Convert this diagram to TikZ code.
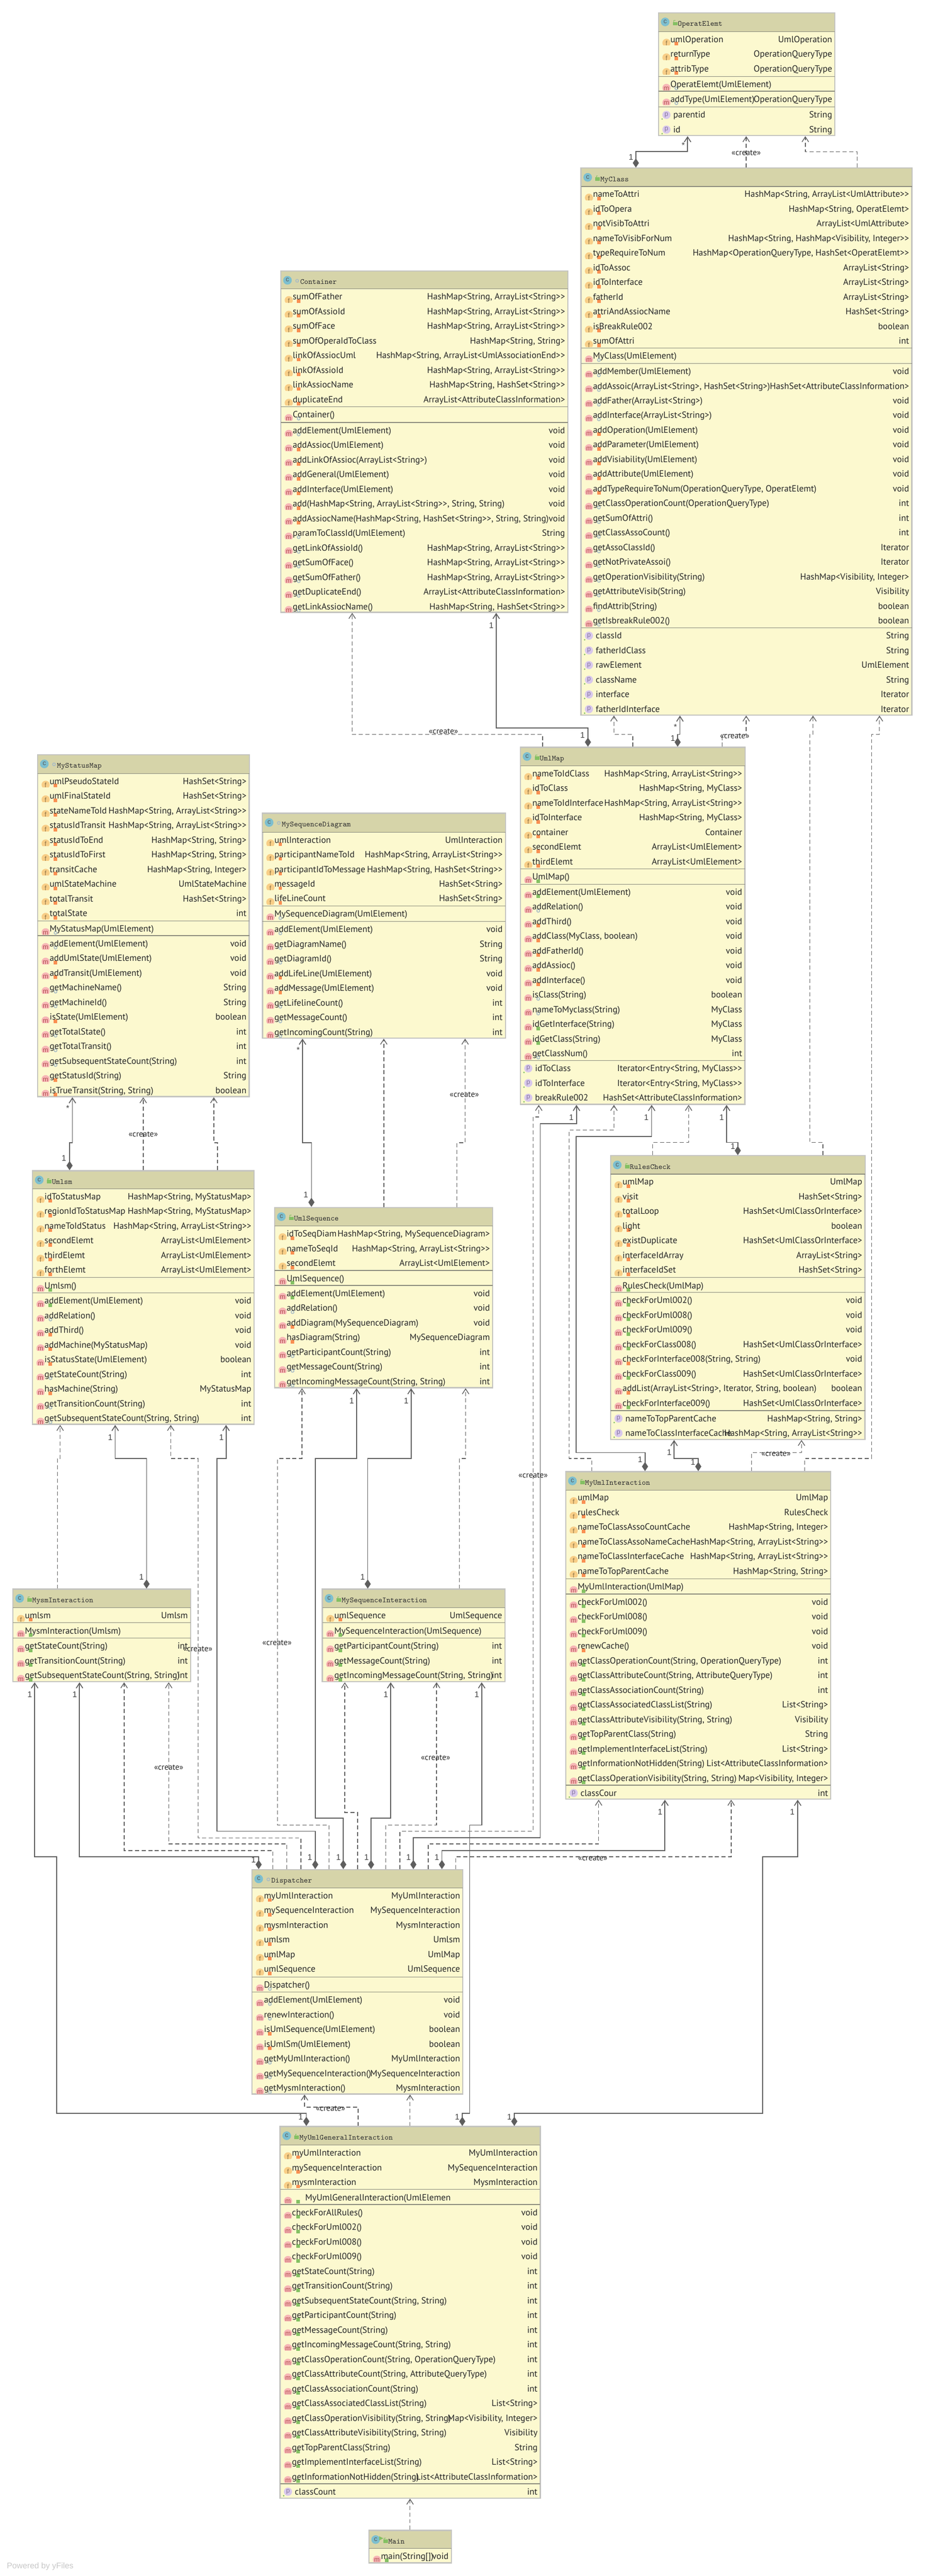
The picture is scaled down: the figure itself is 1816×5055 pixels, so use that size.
\documentclass[tikz,border=0pt]{standalone}
\usepackage{fontspec}
\usepackage{xcolor}
\usepackage{tikz}
\usetikzlibrary{arrows.meta,fit}
\newfontfamily\rowfont{PT Sans}
\newfontfamily\linefont{Liberation Sans}
\definecolor{rowbg}{HTML}{FCF9CF}
\definecolor{headbg}{HTML}{D6D4A9}
\definecolor{edgegray}{HTML}{C4C4C0}
\definecolor{sepgray}{HTML}{8A8A7C}
\definecolor{linegray}{HTML}{5E5E5E}
\definecolor{ficon}{HTML}{F8CE87}
\definecolor{micon}{HTML}{F7B6B6}
\definecolor{picon}{HTML}{D8C8EC}
\definecolor{cicon}{HTML}{7DBFCF}
\definecolor{mltr}{HTML}{B25050}
\definecolor{fltr}{HTML}{8F7445}
\definecolor{pltr}{HTML}{85759F}
\definecolor{privmark}{HTML}{F98F52}
\definecolor{pubmark}{HTML}{84C063}
\definecolor{pkgmark}{HTML}{A9BCC5}
\tikzstyle{classbox} = [draw=edgegray, line width=1.2pt, fill=rowbg, rectangle, inner sep=0pt]
\tikzstyle{headtext} = [anchor=base west, inner sep=0pt, text=black!80, font=\fontsize{7.5}{9}\selectfont\ttfamily]
\tikzstyle{nametext} = [anchor=base west, inner sep=0pt, text=black!85, font=\fontsize{8.8}{11}\selectfont\rowfont]
\tikzstyle{typetext} = [anchor=base east, inner sep=0pt, text=black!85, font=\fontsize{8.8}{11}\selectfont\rowfont]
\tikzstyle{iconltr} = [inner sep=0pt, font=\fontsize{6.5}{7}\selectfont\linefont]
\tikzstyle{sepline} = [draw=sepgray, line width=0.6pt]
\tikzstyle{mult} = [inner sep=0pt, text=black!75, font=\fontsize{8}{9}\selectfont\linefont]
\tikzstyle{stereo} = [inner sep=0pt, text=black!85, font=\fontsize{8}{10}\selectfont\rowfont]
\tikzstyle{compo} = [{Diamond[length=9pt,width=6pt]}-{Straight Barb[length=5pt,width=6.5pt]}, draw=linegray, line width=0.85pt]
\tikzstyle{dep} = [-{Straight Barb[length=5pt,width=6.5pt]}, draw=linegray, line width=0.7pt, dash pattern=on 4pt off 2.5pt]
\newcounter{rowno}
% visibility marks on a row
\newcommand{\viso}{\fill[privmark] ({\xa+31.5},{\ry+5}) rectangle ({\xa+38.5},{\ry+12});}
\newcommand{\visg}{\fill[pubmark] ({\xa+31.5},{\ry+5}) rectangle ({\xa+38.5},{\ry+12});}
\newcommand{\visc}{\draw[pkgmark, line width=0.8pt] ({\xa+35},{\ry+8}) circle (2.8);}
% one class: id, name, head mark, x1, y1, x2, y2, bottom of head
\newcommand{\umlclass}[8]{
	\def\cid{#1}\def\xa{#4}\def\xb{#6}
	\pgfmathsetmacro\nexty{#8+15}
	\node[classbox, fit={(#4,#5) (#6,#7)}] (#1) {};
	\fill[headbg] ({#4+1},{#5+1}) rectangle ({#6-1},#8);
	\draw[sepline] (#4,#8) -- (#6,#8);
	\fill[cicon] ({#4+13},{#5+18}) circle (8.5);
	\node[iconltr, text=black!65] (#1 c) at ({#4+13},{#5+17.5}) {c};
	\ifx g#3
		\fill[pubmark] ({#4+28},{#5+18}) rectangle ({#4+37},{#5+25});
		\draw[pubmark, line width=0.6pt] ({#4+30},{#5+18}) -- ({#4+30},{#5+15}) -- ({#4+33},{#5+15});
	\else
		\draw[pkgmark, line width=0.8pt] ({#4+32},{#5+19}) circle (2.8);
	\fi
	\node[headtext] (#1 name) at ({#4+37.5},{#5+26}) {#2};
}
% a separator between compartments
\newcommand{\umlsep}[1]{
	\draw[sepline] (\xa,#1) -- (\xb,#1);
	\pgfmathsetmacro\nexty{#1+15.5}
}
\newcommand{\textrow}[2]{
	\stepcounter{rowno}
	\node[nametext] (\cid n\therowno) at ({\xa+23},{\ry+6}) {#1};
	\node[typetext] (\cid t\therowno) at ({\xb-5},{\ry+6}) {#2};
	\pgfmathsetmacro\nexty{\ry+28.8}
}
\newcommand{\frow}[3]{
	\pgfmathsetmacro\ry{\nexty}
	\fill[ficon] ({\xa+15.5},{\ry+7}) ++(140:8) arc[start angle=140,end angle=400,radius=8] -- cycle;
	\node[iconltr, text=fltr] (\cid f\arabic{rowno}) at ({\xa+15.5},{\ry+8}) {f};
	\csname vis#1\endcsname
	\textrow{#2}{#3}
}
\newcommand{\mrow}[3]{
	\pgfmathsetmacro\ry{\nexty}
	\fill[micon] ({\xa+15.5},{\ry+7}) ++(140:8) arc[start angle=140,end angle=400,radius=8] -- cycle;
	\node[iconltr, text=mltr] (\cid m\arabic{rowno}) at ({\xa+15.5},{\ry+8}) {m};
	\csname vis#1\endcsname
	\textrow{#2}{#3}
}
\newcommand{\prow}[2]{
	\pgfmathsetmacro\ry{\nexty}
	\fill[picon] ({\xa+15.5},\ry) circle (8);
	\fill[pubmark] ({\xa+7},{\ry+8}) circle (1.6);
	\stepcounter{rowno}
	\node[iconltr, text=pltr] (\cid p\therowno) at ({\xa+15.5},\ry) {p};
	\node[nametext] (\cid n\therowno) at ({\xa+28.5},{\ry+6}) {#1};
	\node[typetext] (\cid t\therowno) at ({\xb-5},{\ry+6}) {#2};
	\pgfmathsetmacro\nexty{\ry+28.8}
}
\begin{document}
\begin{tikzpicture}[x=0.5pt,y=-0.5pt]
	\useasboundingbox (0,0) rectangle (1816,5055);

	\umlclass{OperatElemt}{OperatElemt}{g}{1292}{25}{1638}{266}{62}
	\frow{o}{umlOperation}{UmlOperation}
	\frow{o}{returnType}{OperationQueryType}
	\frow{o}{attribType}{OperationQueryType}
	\umlsep{150}
	\mrow{c}{OperatElemt(UmlElement)}{}
	\umlsep{179}
	\mrow{c}{addType(UmlElement)}{OperationQueryType}
	\umlsep{210}
	\prow{parentid}{String}
	\prow{id}{String}

	\umlclass{MyClass}{MyClass}{g}{1140}{330}{1789}{1403}{366}
	\frow{o}{nameToAttri}{HashMap<String, ArrayList<UmlAttribute>>}
	\frow{o}{idToOpera}{HashMap<String, OperatElemt>}
	\frow{o}{notVisibToAttri}{ArrayList<UmlAttribute>}
	\frow{o}{nameToVisibForNum}{HashMap<String, HashMap<Visibility, Integer>>}
	\frow{o}{typeRequireToNum}{HashMap<OperationQueryType, HashSet<OperatElemt>>}
	\frow{o}{idToAssoc}{ArrayList<String>}
	\frow{o}{idToInterface}{ArrayList<String>}
	\frow{o}{fatherId}{ArrayList<String>}
	\frow{o}{attriAndAssiocName}{HashSet<String>}
	\frow{o}{isBreakRule002}{boolean}
	\frow{o}{sumOfAttri}{int}
	\umlsep{683}
	\mrow{c}{MyClass(UmlElement)}{}
	\umlsep{713}
	\mrow{c}{addMember(UmlElement)}{void}
	\mrow{c}{addAssoic(ArrayList<String>, HashSet<String>)}{HashSet<AttributeClassInformation>}
	\mrow{c}{addFather(ArrayList<String>)}{void}
	\mrow{c}{addInterface(ArrayList<String>)}{void}
	\mrow{o}{addOperation(UmlElement)}{void}
	\mrow{o}{addParameter(UmlElement)}{void}
	\mrow{o}{addVisiability(UmlElement)}{void}
	\mrow{o}{addAttribute(UmlElement)}{void}
	\mrow{o}{addTypeRequireToNum(OperationQueryType, OperatElemt)}{void}
	\mrow{c}{getClassOperationCount(OperationQueryType)}{int}
	\mrow{c}{getSumOfAttri()}{int}
	\mrow{c}{getClassAssoCount()}{int}
	\mrow{c}{getAssoClassId()}{Iterator}
	\mrow{c}{getNotPrivateAssoi()}{Iterator}
	\mrow{c}{getOperationVisibility(String)}{HashMap<Visibility, Integer>}
	\mrow{c}{getAttributeVisib(String)}{Visibility}
	\mrow{c}{findAttrib(String)}{boolean}
	\mrow{c}{getIsbreakRule002()}{boolean}
	\umlsep{1232}
	\prow{classId}{String}
	\prow{fatherIdClass}{String}
	\prow{rawElement}{UmlElement}
	\prow{className}{String}
	\prow{interface}{Iterator}
	\prow{fatherIdInterface}{Iterator}

	\umlclass{Container}{Container}{c}{551}{532}{1114}{1201.5}{567}
	\frow{o}{sumOfFather}{HashMap<String, ArrayList<String>>}
	\frow{o}{sumOfAssioId}{HashMap<String, ArrayList<String>>}
	\frow{o}{sumOfFace}{HashMap<String, ArrayList<String>>}
	\frow{o}{sumOfOperaIdToClass}{HashMap<String, String>}
	\frow{o}{linkOfAssiocUml}{HashMap<String, ArrayList<UmlAssociationEnd>>}
	\frow{o}{linkOfAssioId}{HashMap<String, ArrayList<String>>}
	\frow{o}{linkAssiocName}{HashMap<String, HashSet<String>>}
	\frow{o}{duplicateEnd}{ArrayList<AttributeClassInformation>}
	\umlsep{798}
	\mrow{c}{Container()}{}
	\umlsep{829}
	\mrow{c}{addElement(UmlElement)}{void}
	\mrow{o}{addAssioc(UmlElement)}{void}
	\mrow{o}{addLinkOfAssioc(ArrayList<String>)}{void}
	\mrow{o}{addGeneral(UmlElement)}{void}
	\mrow{o}{addInterface(UmlElement)}{void}
	\mrow{o}{add(HashMap<String, ArrayList<String>>, String, String)}{void}
	\mrow{o}{addAssiocName(HashMap<String, HashSet<String>>, String, String)}{void}
	\mrow{c}{paramToClassId(UmlElement)}{String}
	\mrow{c}{getLinkOfAssioId()}{HashMap<String, ArrayList<String>>}
	\mrow{c}{getSumOfFace()}{HashMap<String, ArrayList<String>>}
	\mrow{c}{getSumOfFather()}{HashMap<String, ArrayList<String>>}
	\mrow{c}{getDuplicateEnd()}{ArrayList<AttributeClassInformation>}
	\mrow{c}{getLinkAssiocName()}{HashMap<String, HashSet<String>>}

	\umlclass{MyStatusMap}{MyStatusMap}{c}{74}{1481}{489}{2152}{1518}
	\frow{o}{umlPseudoStateId}{HashSet<String>}
	\frow{o}{umlFinalStateId}{HashSet<String>}
	\frow{o}{stateNameToId}{HashMap<String, ArrayList<String>>}
	\frow{o}{statusIdTransit}{HashMap<String, ArrayList<String>>}
	\frow{o}{statusIdToEnd}{HashMap<String, String>}
	\frow{o}{statusIdToFirst}{HashMap<String, String>}
	\frow{o}{transitCache}{HashMap<String, Integer>}
	\frow{o}{umlStateMachine}{UmlStateMachine}
	\frow{o}{totalTransit}{HashSet<String>}
	\frow{o}{totalState}{int}
	\umlsep{1807}
	\mrow{c}{MyStatusMap(UmlElement)}{}
	\umlsep{1836}
	\mrow{c}{addElement(UmlElement)}{void}
	\mrow{o}{addUmlState(UmlElement)}{void}
	\mrow{o}{addTransit(UmlElement)}{void}
	\mrow{c}{getMachineName()}{String}
	\mrow{c}{getMachineId()}{String}
	\mrow{o}{isState(UmlElement)}{boolean}
	\mrow{c}{getTotalState()}{int}
	\mrow{c}{getTotalTransit()}{int}
	\mrow{c}{getSubsequentStateCount(String)}{int}
	\mrow{o}{getStatusId(String)}{String}
	\mrow{o}{isTrueTransit(String, String)}{boolean}

	\umlclass{MySequenceDiagram}{MySequenceDiagram}{c}{515}{1596}{991.5}{2037}{1633}
	\frow{o}{umlInteraction}{UmlInteraction}
	\frow{o}{participantNameToId}{HashMap<String, ArrayList<String>>}
	\frow{o}{participantIdToMessage}{HashMap<String, HashSet<String>>}
	\frow{o}{messageId}{HashSet<String>}
	\frow{o}{lifeLineCount}{HashSet<String>}
	\umlsep{1778}
	\mrow{c}{MySequenceDiagram(UmlElement)}{}
	\umlsep{1808}
	\mrow{c}{addElement(UmlElement)}{void}
	\mrow{c}{getDiagramName()}{String}
	\mrow{c}{getDiagramId()}{String}
	\mrow{o}{addLifeLine(UmlElement)}{void}
	\mrow{o}{addMessage(UmlElement)}{void}
	\mrow{c}{getLifelineCount()}{int}
	\mrow{c}{getMessageCount()}{int}
	\mrow{c}{getIncomingCount(String)}{int}

	\umlclass{UmlMap}{UmlMap}{g}{1021}{1466.5}{1461.5}{2167}{1503}
	\frow{o}{nameToIdClass}{HashMap<String, ArrayList<String>>}
	\frow{o}{idToClass}{HashMap<String, MyClass>}
	\frow{o}{nameToIdInterface}{HashMap<String, ArrayList<String>>}
	\frow{o}{idToInterface}{HashMap<String, MyClass>}
	\frow{o}{container}{Container}
	\frow{o}{secondElemt}{ArrayList<UmlElement>}
	\frow{o}{thirdElemt}{ArrayList<UmlElement>}
	\umlsep{1705}
	\mrow{g}{UmlMap()}{}
	\umlsep{1735}
	\mrow{g}{addElement(UmlElement)}{void}
	\mrow{c}{addRelation()}{void}
	\mrow{o}{addThird()}{void}
	\mrow{o}{addClass(MyClass, boolean)}{void}
	\mrow{o}{addFatherId()}{void}
	\mrow{o}{addAssioc()}{void}
	\mrow{o}{addInterface()}{void}
	\mrow{c}{isClass(String)}{boolean}
	\mrow{c}{nameToMyclass(String)}{MyClass}
	\mrow{g}{idGetInterface(String)}{MyClass}
	\mrow{g}{idGetClass(String)}{MyClass}
	\mrow{c}{getClassNum()}{int}
	\umlsep{2081}
	\prow{idToClass}{Iterator<Entry<String, MyClass>>}
	\prow{idToInterface}{Iterator<Entry<String, MyClass>>}
	\prow{breakRule002}{HashSet<AttributeClassInformation>}

	\umlclass{Umlsm}{Umlsm}{g}{64}{2297.5}{498.5}{2795}{2333}
	\frow{o}{idToStatusMap}{HashMap<String, MyStatusMap>}
	\frow{o}{regionIdToStatusMap}{HashMap<String, MyStatusMap>}
	\frow{o}{nameToIdStatus}{HashMap<String, ArrayList<String>>}
	\frow{o}{secondElemt}{ArrayList<UmlElement>}
	\frow{o}{thirdElemt}{ArrayList<UmlElement>}
	\frow{o}{forthElemt}{ArrayList<UmlElement>}
	\umlsep{2507}
	\mrow{g}{Umlsm()}{}
	\umlsep{2537}
	\mrow{g}{addElement(UmlElement)}{void}
	\mrow{c}{addRelation()}{void}
	\mrow{o}{addThird()}{void}
	\mrow{o}{addMachine(MyStatusMap)}{void}
	\mrow{o}{isStatusState(UmlElement)}{boolean}
	\mrow{c}{getStateCount(String)}{int}
	\mrow{o}{hasMachine(String)}{MyStatusMap}
	\mrow{c}{getTransitionCount(String)}{int}
	\mrow{c}{getSubsequentStateCount(String, String)}{int}

	\umlclass{UmlSequence}{UmlSequence}{g}{539}{2369.5}{966.5}{2723}{2406}
	\frow{o}{idToSeqDiam}{HashMap<String, MySequenceDiagram>}
	\frow{o}{nameToSeqId}{HashMap<String, ArrayList<String>>}
	\frow{o}{secondElemt}{ArrayList<UmlElement>}
	\umlsep{2493}
	\mrow{g}{UmlSequence()}{}
	\umlsep{2522.5}
	\mrow{g}{addElement(UmlElement)}{void}
	\mrow{c}{addRelation()}{void}
	\mrow{o}{addDiagram(MySequenceDiagram)}{void}
	\mrow{o}{hasDiagram(String)}{MySequenceDiagram}
	\mrow{c}{getParticipantCount(String)}{int}
	\mrow{c}{getMessageCount(String)}{int}
	\mrow{c}{getIncomingMessageCount(String, String)}{int}

	\umlclass{RulesCheck}{RulesCheck}{g}{1198}{2268}{1697}{2824.5}{2304}
	\frow{o}{umlMap}{UmlMap}
	\frow{o}{visit}{HashSet<String>}
	\frow{o}{totalLoop}{HashSet<UmlClassOrInterface>}
	\frow{o}{light}{boolean}
	\frow{o}{existDuplicate}{HashSet<UmlClassOrInterface>}
	\frow{o}{interfaceIdArray}{ArrayList<String>}
	\frow{o}{interfaceIdSet}{HashSet<String>}
	\umlsep{2507}
	\mrow{g}{RulesCheck(UmlMap)}{}
	\umlsep{2536}
	\mrow{g}{checkForUml002()}{void}
	\mrow{g}{checkForUml008()}{void}
	\mrow{g}{checkForUml009()}{void}
	\mrow{g}{checkForClass008()}{HashSet<UmlClassOrInterface>}
	\mrow{o}{checkForInterface008(String, String)}{void}
	\mrow{g}{checkForClass009()}{HashSet<UmlClassOrInterface>}
	\mrow{o}{addList(ArrayList<String>, Iterator, String, boolean)}{boolean}
	\mrow{g}{checkForInterface009()}{HashSet<UmlClassOrInterface>}
	\umlsep{2768}
	\prow{nameToTopParentCache}{HashMap<String, String>}
	\prow{nameToClassInterfaceCache}{HashMap<String, ArrayList<String>>}

	\umlclass{MyUmlInteraction}{MyUmlInteraction}{g}{1110}{2888}{1630}{3530.5}{2924}
	\frow{o}{umlMap}{UmlMap}
	\frow{o}{rulesCheck}{RulesCheck}
	\frow{o}{nameToClassAssoCountCache}{HashMap<String, Integer>}
	\frow{o}{nameToClassAssoNameCache}{HashMap<String, ArrayList<String>>}
	\frow{o}{nameToClassInterfaceCache}{HashMap<String, ArrayList<String>>}
	\frow{o}{nameToTopParentCache}{HashMap<String, String>}
	\umlsep{3098}
	\mrow{g}{MyUmlInteraction(UmlMap)}{}
	\umlsep{3128}
	\mrow{g}{checkForUml002()}{void}
	\mrow{g}{checkForUml008()}{void}
	\mrow{g}{checkForUml009()}{void}
	\mrow{o}{renewCache()}{void}
	\mrow{g}{getClassOperationCount(String, OperationQueryType)}{int}
	\mrow{g}{getClassAttributeCount(String, AttributeQueryType)}{int}
	\mrow{g}{getClassAssociationCount(String)}{int}
	\mrow{g}{getClassAssociatedClassList(String)}{List<String>}
	\mrow{g}{getClassAttributeVisibility(String, String)}{Visibility}
	\mrow{g}{getTopParentClass(String)}{String}
	\mrow{g}{getImplementInterfaceList(String)}{List<String>}
	\mrow{g}{getInformationNotHidden(String)}{List<AttributeClassInformation>}
	\mrow{g}{getClassOperationVisibility(String, String)}{Map<Visibility, Integer>}
	\umlsep{3503}
	\prow{classCour}{int}

	\umlclass{MysmInteraction}{MysmInteraction}{g}{25.5}{3118.5}{374}{3300}{3155}
	\frow{o}{umlsm}{Umlsm}
	\umlsep{3184.5}
	\mrow{g}{MysmInteraction(Umlsm)}{}
	\umlsep{3214.5}
	\mrow{g}{getStateCount(String)}{int}
	\mrow{g}{getTransitionCount(String)}{int}
	\mrow{g}{getSubsequentStateCount(String, String)}{int}

	\umlclass{MySequenceInteraction}{MySequenceInteraction}{g}{632.5}{3118.5}{990.5}{3300}{3155}
	\frow{o}{umlSequence}{UmlSequence}
	\umlsep{3184.5}
	\mrow{g}{MySequenceInteraction(UmlSequence)}{}
	\umlsep{3214.5}
	\mrow{g}{getParticipantCount(String)}{int}
	\mrow{g}{getMessageCount(String)}{int}
	\mrow{g}{getIncomingMessageCount(String, String)}{int}

	\umlclass{Dispatcher}{Dispatcher}{c}{494.5}{3669}{908}{4109}{3705}
	\frow{o}{myUmlInteraction}{MyUmlInteraction}
	\frow{o}{mySequenceInteraction}{MySequenceInteraction}
	\frow{o}{mysmInteraction}{MysmInteraction}
	\frow{o}{umlsm}{Umlsm}
	\frow{o}{umlMap}{UmlMap}
	\frow{o}{umlSequence}{UmlSequence}
	\umlsep{3879.5}
	\mrow{c}{Dispatcher()}{}
	\umlsep{3909}
	\mrow{c}{addElement(UmlElement)}{void}
	\mrow{c}{renewInteraction()}{void}
	\mrow{o}{isUmlSequence(UmlElement)}{boolean}
	\mrow{o}{isUmlSm(UmlElement)}{boolean}
	\mrow{c}{getMyUmlInteraction()}{MyUmlInteraction}
	\mrow{c}{getMySequenceInteraction()}{MySequenceInteraction}
	\mrow{c}{getMysmInteraction()}{MysmInteraction}

	\umlclass{General}{MyUmlGeneralInteraction}{g}{549.5}{4173}{1060}{4902}{4209.5}
	\frow{o}{myUmlInteraction}{MyUmlInteraction}
	\frow{o}{mySequenceInteraction}{MySequenceInteraction}
	\frow{o}{mysmInteraction}{MysmInteraction}
	\umlsep{4296.5}
	\mrow{g}{\hspace*{13pt}MyUmlGeneralInteraction(UmlElemen}{}
	\umlsep{4326}
	\mrow{g}{checkForAllRules()}{void}
	\mrow{g}{checkForUml002()}{void}
	\mrow{g}{checkForUml008()}{void}
	\mrow{g}{checkForUml009()}{void}
	\mrow{g}{getStateCount(String)}{int}
	\mrow{g}{getTransitionCount(String)}{int}
	\mrow{g}{getSubsequentStateCount(String, String)}{int}
	\mrow{g}{getParticipantCount(String)}{int}
	\mrow{g}{getMessageCount(String)}{int}
	\mrow{g}{getIncomingMessageCount(String, String)}{int}
	\mrow{g}{getClassOperationCount(String, OperationQueryType)}{int}
	\mrow{g}{getClassAttributeCount(String, AttributeQueryType)}{int}
	\mrow{g}{getClassAssociationCount(String)}{int}
	\mrow{g}{getClassAssociatedClassList(String)}{List<String>}
	\mrow{g}{getClassOperationVisibility(String, String)}{Map<Visibility, Integer>}
	\mrow{g}{getClassAttributeVisibility(String, String)}{Visibility}
	\mrow{g}{getTopParentClass(String)}{String}
	\mrow{g}{getImplementInterfaceList(String)}{List<String>}
	\mrow{g}{getInformationNotHidden(String)}{List<AttributeClassInformation>}
	\umlsep{4874}
	\prow{classCount}{int}

	\umlclass{Main}{Main}{g}{724}{4965.5}{885.5}{5029}{5001}
	\fill[pubmark] (744,4977) -- (752,4981) -- (744,4985) -- cycle;
	\mrow{g}{main(String[])}{void}

	% associations
	\draw[compo] (MyClass.north -| 1247.5,0) -- (1247.5,297.5) -- (1349,297.5) -- (OperatElemt.south -| 1349,0);
	\draw[compo] (UmlMap.north -| 1329.5,0) -- (1329.5,1441) -- (1334,1441) -- (MyClass.south -| 1334,0);
	\draw[compo] (UmlMap.north -| 1153.5,0) -- (1153.5,1428.5) -- (973.5,1428.5) -- (Container.south -| 973.5,0);
	\draw[compo] (Umlsm.north -| 136.5,0) -- (136.5,2242.5) -- (142,2242.5) -- (MyStatusMap.south -| 142,0);
	\draw[compo] (UmlSequence.north -| 611,0) -- (611,2242.5) -- (593.5,2242.5) -- (MySequenceDiagram.south -| 593.5,0);
	\draw[compo] (MysmInteraction.north -| 287.5,0) -- (287.5,2862) -- (226,2862) -- (Umlsm.south -| 226,0);
	\draw[compo] (Dispatcher.north -| 618.5,0) -- (618.5,3593.5) -- (425.5,3593.5) -- (425.5,2862) -- (443.5,2862) -- (Umlsm.south -| 443.5,0);
	\draw[compo] (Dispatcher.north -| 673.5,0) -- (673.5,3568) -- (618.5,3568) -- (618.5,2862) -- (699.5,2862) -- (UmlSequence.south -| 699.5,0);
	\draw[compo] (MySequenceInteraction.north -| 721.5,0) -- (721.5,2862) -- (806.5,2862) -- (UmlSequence.south -| 806.5,0);
	\draw[compo] (Dispatcher.north -| 811,0) -- (811,3606.5) -- (1060,3606.5) -- (1060,2205) -- (1131,2205) -- (UmlMap.south -| 1131,0);
	\draw[compo] (MyUmlInteraction.north -| 1265.5,0) -- (1265.5,2850.5) -- (1130,2850.5) -- (1130,2230) -- (1278.5,2230) -- (UmlMap.south -| 1278.5,0);
	\draw[compo] (RulesCheck.north -| 1447.5,0) -- (1447.5,2242) -- (1425.5,2242) -- (UmlMap.south -| 1425.5,0);
	\draw[compo] (MyUmlInteraction.north -| 1370,0) -- (1370,2862) -- (1322.5,2862) -- (RulesCheck.south -| 1322.5,0);
	\draw[compo] (Dispatcher.north -| 867,0) -- (867,3631.5) -- (1304.5,3631.5) -- (MyUmlInteraction.south -| 1304.5,0);
	\draw[compo] (General.north -| 1009,0) -- (1009,4147) -- (1496.5,4147) -- (1496.5,3643.5) -- (1565,3643.5) -- (MyUmlInteraction.south -| 1565,0);
	\draw[compo] (General.north -| 601,0) -- (601,4147) -- (111.5,4147) -- (111.5,3643.5) -- (68,3643.5) -- (MysmInteraction.south -| 68,0);
	\draw[compo] (Dispatcher.north -| 507.5,0) -- (507.5,3643.5) -- (156,3643.5) -- (MysmInteraction.south -| 156,0);
	\draw[compo] (Dispatcher.north -| 728,0) -- (728,3568) -- (766.5,3568) -- (MySequenceInteraction.south -| 766.5,0);
	\draw[compo] (General.north -| 907,0) -- (907,4147) -- (921.5,4147) -- (921.5,3581.5) -- (945,3581.5) -- (MySequenceInteraction.south -| 945,0);

	% dependencies
	\draw[dep] (MyClass.north -| 1464,0) -- (OperatElemt.south -| 1464,0);
	\draw[dep] (MyClass.north -| 1682,0) -- (1682,297.5) -- (1580,297.5) -- (OperatElemt.south -| 1580,0);
	\draw[dep] (UmlMap.north -| 1241.5,0) -- (1241.5,1441) -- (1204.5,1441) -- (MyClass.south -| 1204.5,0);
	\draw[dep] (UmlMap.north -| 1417,0) -- (1417,1441) -- (1464,1441) -- (MyClass.south -| 1464,0);
	\draw[dep] (RulesCheck.north -| 1614.5,0) -- (1614.5,2242) -- (1588.5,2242) -- (1588.5,1441) -- (1595,1441) -- (MyClass.south -| 1595,0);
	\draw[dep] (MyUmlInteraction.north -| 1578.5,0) -- (1578.5,2862) -- (1710,2862) -- (1710,1441) -- (1725.5,1441) -- (MyClass.south -| 1725.5,0);
	\draw[dep] (UmlMap.north -| 1064.5,0) -- (1064.5,1441) -- (691,1441) -- (Container.south -| 691,0);
	\draw[dep] (Umlsm.north -| 281,0) -- (MyStatusMap.south -| 281,0);
	\draw[dep] (Umlsm.north -| 426.5,0) -- (426.5,2242.5) -- (419.5,2242.5) -- (MyStatusMap.south -| 419.5,0);
	\draw[dep] (UmlSequence.north -| 753,0) -- (MySequenceDiagram.south -| 753,0);
	\draw[dep] (UmlSequence.north -| 896.5,0) -- (896.5,2242.5) -- (912.5,2242.5) -- (MySequenceDiagram.south -| 912.5,0);
	\draw[dep] (MysmInteraction.north -| 112.5,0) -- (112.5,2862) -- (118,2862) -- (Umlsm.south -| 118,0);
	\draw[dep] (Dispatcher.north -| 590.5,0) -- (590.5,3606.5) -- (388.5,3606.5) -- (388.5,2862) -- (335,2862) -- (Umlsm.south -| 335,0);
	\draw[dep] (Dispatcher.north -| 645.5,0) -- (645.5,3581.5) -- (544.5,3581.5) -- (544.5,2862) -- (592.5,2862) -- (UmlSequence.south -| 592.5,0);
	\draw[dep] (MySequenceInteraction.north -| 901.5,0) -- (901.5,2862) -- (913.5,2862) -- (UmlSequence.south -| 913.5,0);
	\draw[dep] (Dispatcher.north -| 784.5,0) -- (784.5,3593.5) -- (1046,3593.5) -- (1046,2192) -- (1057,2192) -- (UmlMap.south -| 1057,0);
	\draw[dep] (MyUmlInteraction.north -| 1161,0) -- (1161,2862) -- (1116.5,2862) -- (1116.5,2217.5) -- (1204.5,2217.5) -- (UmlMap.south -| 1204.5,0);
	\draw[dep] (RulesCheck.north -| 1280.5,0) -- (1280.5,2242) -- (1351,2242) -- (UmlMap.south -| 1351,0);
	\draw[dep] (MyUmlInteraction.north -| 1474.5,0) -- (1474.5,2850.5) -- (1572.5,2850.5) -- (RulesCheck.south -| 1572.5,0);
	\draw[dep] (Dispatcher.north -| 535.5,0) -- (535.5,3631.5) -- (243.5,3631.5) -- (MysmInteraction.south -| 243.5,0);
	\draw[dep] (Dispatcher.north -| 562.5,0) -- (562.5,3618.5) -- (331,3618.5) -- (MysmInteraction.south -| 331,0);
	\draw[dep] (Dispatcher.north -| 701.5,0) -- (701.5,3556.5) -- (676.5,3556.5) -- (MySequenceInteraction.south -| 676.5,0);
	\draw[dep] (Dispatcher.north -| 757,0) -- (757,3581.5) -- (856.5,3581.5) -- (MySequenceInteraction.south -| 856.5,0);
	\draw[dep] (Dispatcher.north -| 840,0) -- (840,3618.5) -- (1174.5,3618.5) -- (MyUmlInteraction.south -| 1174.5,0);
	\draw[dep] (Dispatcher.north -| 894,0) -- (894,3643.5) -- (1434.5,3643.5) -- (MyUmlInteraction.south -| 1434.5,0);
	\draw[dep] (General.north -| 702.5,0) -- (702.5,4135) -- (597.5,4135) -- (Dispatcher.south -| 597.5,0);
	\draw[dep] (General.north -| 804.5,0) -- (Dispatcher.south -| 804.5,0);
	\draw[dep] (Main.north -| 804.5,0) -- (General.south -| 804.5,0);

	% multiplicities
	\foreach \x/\y [count=\i] in {1238/308, 1143/1443, 1320/1449, 964/1227, 125.5/2273, 600/2345,
		1121/2192.5, 1268/2192.5, 1416/2192.5, 1438/2249.5, 1256/2864, 1359.5/2869.5, 1313/2850,
		216.5/2821, 434.5/2821, 277.5/3094.5, 690/2748.5, 797/2748.5, 711.5/3094.5,
		58.5/3325.5, 146.5/3325.5, 757/3325.5, 935.5/3325.5, 1295/3555.5, 1554.5/3555.5,
		497.5/3650, 608/3645, 664/3645, 719/3645, 801.5/3645, 857/3645,
		590/4154.5, 897/4154.5, 999.5/4154.5}
		\node[mult] (one\i) at (\x,\y) {1};
	\foreach \x/\y [count=\i] in {1340.5/285.5, 1325/1426.5, 133/2175, 585/2060}
		\node[mult] (many\i) at (\x,\y) {*};

	% stereotypes
	\foreach \x/\y [count=\i] in {1464/300, 1441.5/1444, 870/1435, 281/2226, 911/2148,
		1522.5/2853, 1046/2895, 388/3236, 543.5/3224, 331/3468, 854.5/3449, 1163/3646, 648.5/4138}
		\node[stereo] (create\i) at (\x,\y) {«create»};

	\node[anchor=base west, inner sep=0pt, text=black!22, font=\fontsize{8}{9}\selectfont\linefont] (yfiles) at (13,5040) {Powered by yFiles};
\end{tikzpicture}
\end{document}
